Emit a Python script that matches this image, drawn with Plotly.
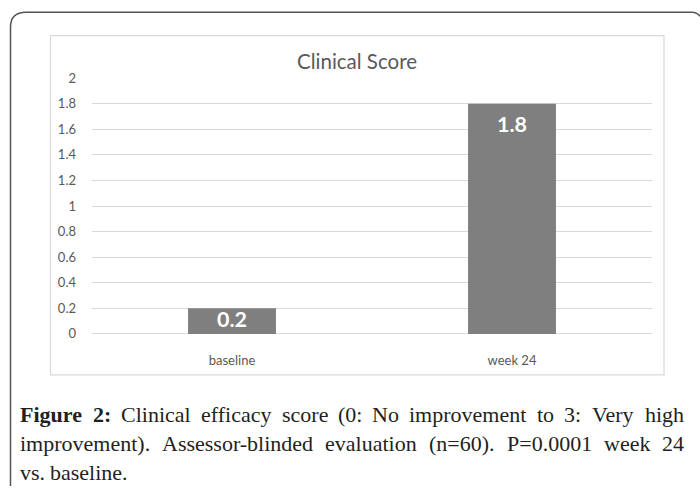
import plotly.graph_objects as go

categories = ["baseline", "week 24"]
scores = [0.2, 1.8]
bar_labels = ["0.2", "1.8"]
tick_vals = [0, 0.2, 0.4, 0.6, 0.8, 1, 1.2, 1.4, 1.6, 1.8, 2]
tick_text = ["0", "0.2", "0.4", "0.6", "0.8", "1", "1.2", "1.4", "1.6", "1.8", "2"]
title_text = "Clinical Score"
caption_lines = [
    "Figure 2: Clinical efficacy score (0: No improvement to 3: Very high",
    "improvement). Assessor-blinded evaluation (n=60). P=0.0001 week 24",
    "vs. baseline.",
]
caption_bold_words = 2

W, H = 700, 494
VS = 510.0 / 494.0  # vertical compensation for the capture

def px(x):
    return x / W

def py(y):
    yp = y * VS - 8
    return 1 - yp / H

REG = {' ': 250, '(': 333, ')': 333, '.': 250, ':': 278, '-': 333, '=': 564,
       'A': 722, 'C': 667, 'N': 722, 'P': 556, 'V': 722, 'F': 556,
       'a': 444, 'b': 500, 'c': 444, 'd': 500, 'e': 444, 'f': 333, 'g': 500,
       'h': 500, 'i': 278, 'k': 500, 'l': 278, 'm': 778, 'n': 500, 'o': 500,
       'p': 500, 'r': 333, 's': 389, 't': 278, 'u': 500, 'v': 500, 'w': 722,
       'y': 500}
BOLD = {'F': 611, 'i': 278, 'g': 500, 'u': 556, 'r': 444, 'e': 444, '2': 500, ':': 333}

def word_width(word, size, bold=False):
    table = BOLD if bold else REG
    return sum(table.get(ch, 500) for ch in word) * size / 1000.0

fig = go.Figure()
fig.add_trace(go.Bar(
    x=categories, y=scores,
    marker=dict(color="#7f7f7f", line=dict(width=0)),
    hoverinfo="skip",
))

shapes = []
path = (f"M {px(10.5)},0 L {px(10.5)},{py(27)} Q {px(10.5)},{py(12)} {px(26)},{py(12)} "
        f"L {px(692)},{py(12)} Q {px(697)},{py(12)} {px(700)},{py(16)}")
shapes.append(dict(type="path", xref="paper", yref="paper", path=path,
                   line=dict(color="#555555", width=1.5)))
shapes.append(dict(type="rect", xref="paper", yref="paper",
                   x0=px(50.5), y0=py(375), x1=px(664), y1=py(35.5),
                   line=dict(color="#d9d9d9", width=1.2)))

annotations = [dict(text=title_text, x=px(357), y=py(61), xref="paper", yref="paper",
                    showarrow=False, xanchor="center", yanchor="middle",
                    font=dict(size=20.5, color="#595959", family="Lato"))]
for cat, val, lab in zip(categories, scores, bar_labels):
    annotations.append(dict(text="<b>" + lab + "</b>", x=cat, y=val, xref="x", yref="y",
                            showarrow=False, xanchor="center", yanchor="middle",
                            yshift=-(20 if val > 0.5 else 10) * VS,
                            font=dict(size=21.5, color="white", family="Lato")))

cap_size = 22
cap_left, cap_right = 20, 684
caption_y = [415, 444, 473]
cap_font = dict(size=cap_size, color="#231f20", family="Liberation Serif")
word_index = 0
for li, (line, yy) in enumerate(zip(caption_lines, caption_y)):
    words = line.split(" ")
    bolds = []
    for w in words:
        bolds.append(word_index < caption_bold_words)
        word_index += 1
    widths = [word_width(w, cap_size, b) for w, b in zip(words, bolds)]
    if li < len(caption_lines) - 1 and len(words) > 1:
        gap = (cap_right - cap_left - sum(widths)) / (len(words) - 1)
    else:
        gap = REG[' '] * cap_size / 1000.0
    x = cap_left
    for w, b, wd in zip(words, bolds, widths):
        annotations.append(dict(text=("<b>" + w + "</b>") if b else w,
                                x=px(x + wd / 2), y=py(yy), xref="paper", yref="paper",
                                showarrow=False, xanchor="center", yanchor="middle",
                                font=cap_font))
        x += wd + gap

fig.update_layout(
    width=W, height=H, margin=dict(l=0, r=0, t=0, b=0),
    paper_bgcolor="white", plot_bgcolor="white",
    bargap=0.686, showlegend=False,
    shapes=shapes, annotations=annotations,
    xaxis=dict(domain=[px(92), px(652)], showline=False, showgrid=False, zeroline=False,
               ticks="", tickfont=dict(size=13, color="#595959", family="Lato"),
               ticklabelstandoff=17, fixedrange=True),
    yaxis=dict(domain=[py(334), py(78)], range=[0, 2], tickvals=tick_vals, ticktext=tick_text,
               showgrid=True, gridcolor="#d9d9d9", gridwidth=1, zeroline=True,
               zerolinecolor="#d9d9d9", zerolinewidth=1, showline=False, ticks="",
               tickfont=dict(size=13, color="#595959", family="Lato"),
               ticklabelstandoff=15, fixedrange=True),
)

fig.write_html("out.html", post_script="document.body.style.margin='0px';",
               config={"displayModeBar": False})
